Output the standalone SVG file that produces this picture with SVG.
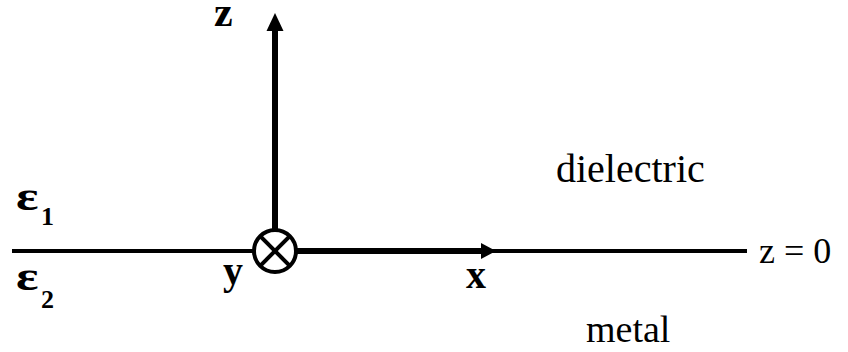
<svg xmlns="http://www.w3.org/2000/svg" width="848" height="352" viewBox="0 0 848 352">
<style>
.lbl{font-family:"Liberation Serif","Times New Roman",serif;fill:#000}
.b{font-weight:bold}
.ax{stroke:#000;stroke-width:6;fill:none}
.base{stroke:#000;stroke-width:4;fill:none}
</style>
<rect width="848" height="352" fill="#fff"/>
<g id="connectors">
<line class="base" x1="12" y1="251" x2="747" y2="251"/>
<line class="ax" x1="275" y1="230" x2="275" y2="28"/>
<polygon points="275,13 266.5,31 283.5,31" fill="#000"/>
<line class="ax" x1="296" y1="251" x2="484" y2="251"/>
<polygon points="496,251 481,243 481,259" fill="#000"/>
</g>
<g id="origin">
<circle cx="275" cy="251" r="21" fill="#fff" stroke="#000" stroke-width="4"/>
<line class="base" x1="260.2" y1="236.2" x2="289.8" y2="265.8"/>
<line class="base" x1="289.8" y1="236.2" x2="260.2" y2="265.8"/>
</g>
<g id="labels">
<text class="lbl b" x="214" y="26" font-size="42">z</text>
<text class="lbl b" x="223" y="284" font-size="40">y</text>
<text class="lbl b" x="466" y="288" font-size="40">x</text>
<text class="lbl b" transform="translate(16,210) scale(1.25,1)" font-size="42">ε</text>
<text class="lbl b" x="41" y="225" font-size="26">1</text>
<text class="lbl b" transform="translate(16,290) scale(1.25,1)" font-size="42">ε</text>
<text class="lbl b" x="41" y="308" font-size="26">2</text>
<text class="lbl" x="556" y="182" font-size="40">dielectric</text>
<text class="lbl" x="586" y="342" font-size="38">metal</text>
<text class="lbl" x="759" y="263" font-size="36">z = 0</text>
</g>
</svg>
